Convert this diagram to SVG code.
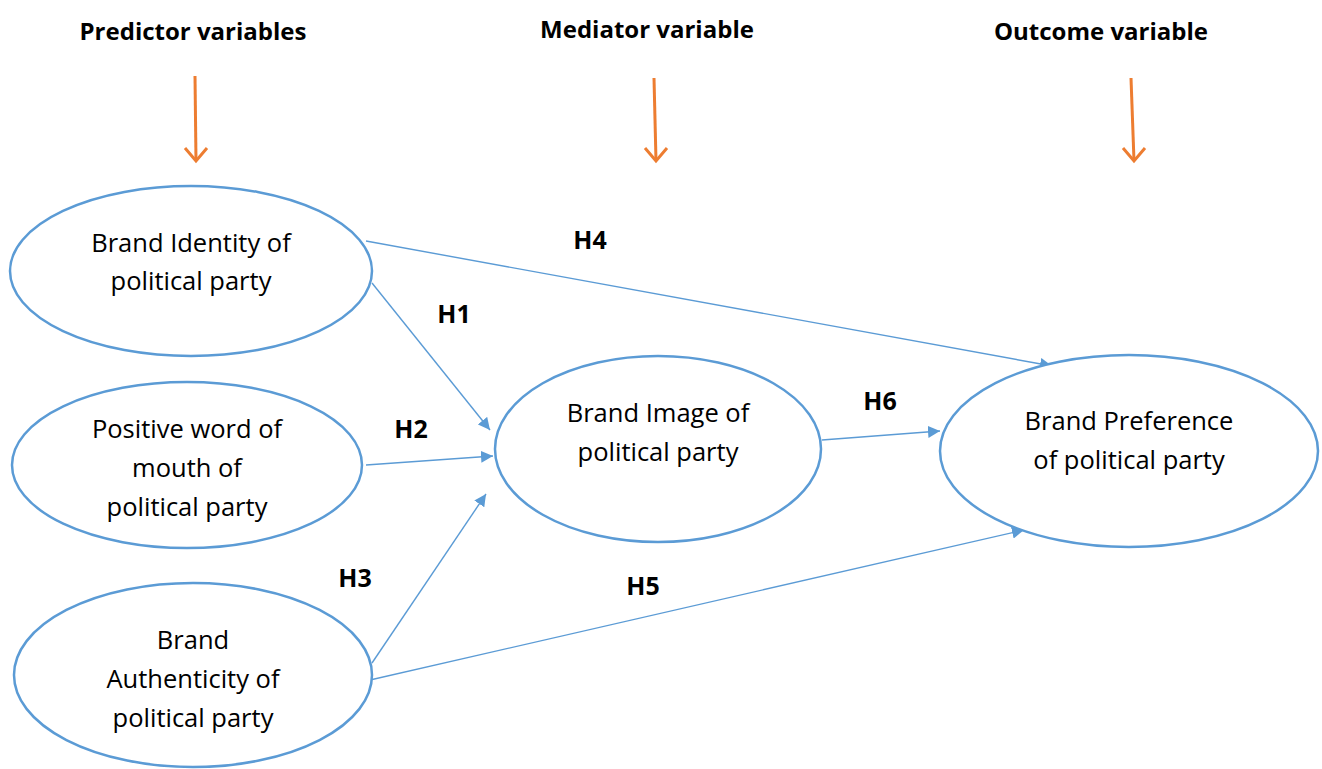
<svg xmlns="http://www.w3.org/2000/svg" width="1322" height="769" viewBox="0 0 1322 769">
  <style>
    .hdr { font-family: "Open Sans", "Liberation Sans", sans-serif; font-weight: bold; font-size: 24px; fill: #000; text-anchor: middle; }
    .lbl { font-family: "Open Sans", "Liberation Sans", sans-serif; font-weight: bold; font-size: 25px; fill: #000; text-anchor: middle; }
    .node ellipse { fill: #fff; stroke: #5B9BD5; stroke-width: 2.5; }
    .node text { font-family: "Open Sans", "Liberation Sans", sans-serif; font-size: 25.5px; fill: #000; text-anchor: middle; }
    .conn line { stroke: #5B9BD5; stroke-width: 1.4; marker-end: url(#blueHead); }
    .pointer line { stroke: #ED7D31; stroke-width: 3; }
    .pointer path { fill: none; stroke: #ED7D31; stroke-width: 3; }
  </style>
  <defs>
    <marker id="blueHead" viewBox="0 0 10 10" refX="10" refY="5" markerWidth="12" markerHeight="12" markerUnits="userSpaceOnUse" orient="auto">
      <path d="M0,0 L10,5 L0,10 z" fill="#5B9BD5"/>
    </marker>
  </defs>

  <!-- Column headings -->
  <text class="hdr" x="193" y="40">Predictor variables</text>
  <text class="hdr" x="647" y="38">Mediator variable</text>
  <text class="hdr" x="1101" y="40">Outcome variable</text>

  <!-- Orange pointers below headings -->
  <g class="pointer">
    <line x1="195" y1="76" x2="196" y2="161"/>
    <path d="M185,148 L196,161 L207,148"/>
    <line x1="654" y1="78" x2="656" y2="161"/>
    <path d="M645,148 L656,161 L667,148"/>
    <line x1="1131" y1="78" x2="1134" y2="161"/>
    <path d="M1123,148 L1134,161 L1145,148"/>
  </g>

  <!-- Connectors -->
  <g id="connectors" class="conn">
    <line x1="366" y1="241" x2="1052" y2="366"/>
    <line x1="372" y1="283" x2="490" y2="430"/>
    <line x1="366" y1="465" x2="493" y2="456"/>
    <line x1="372" y1="663" x2="486" y2="494"/>
    <line x1="370" y1="680" x2="1024" y2="530"/>
    <line x1="822" y1="440" x2="940" y2="431"/>
  </g>

  <!-- Hypothesis labels -->
  <text class="lbl" x="590" y="249">H4</text>
  <text class="lbl" x="454" y="323">H1</text>
  <text class="lbl" x="411" y="438">H2</text>
  <text class="lbl" x="355" y="587">H3</text>
  <text class="lbl" x="643" y="595">H5</text>
  <text class="lbl" x="880" y="410">H6</text>

  <!-- Nodes -->
  <g id="brand-identity" class="node">
    <ellipse cx="191" cy="271" rx="181" ry="85"/>
    <text x="191" y="252">Brand Identity of</text>
    <text x="191" y="290">political party</text>
  </g>
  <g id="word-of-mouth" class="node">
    <ellipse cx="187" cy="465" rx="175" ry="83"/>
    <text x="187" y="438">Positive word of</text>
    <text x="187" y="477">mouth of</text>
    <text x="187" y="516">political party</text>
  </g>
  <g id="brand-authenticity" class="node">
    <ellipse cx="193" cy="675" rx="179" ry="92"/>
    <text x="193" y="649">Brand</text>
    <text x="193" y="688">Authenticity of</text>
    <text x="193" y="727">political party</text>
  </g>
  <g id="brand-image" class="node">
    <ellipse cx="658" cy="449" rx="163" ry="93"/>
    <text x="658" y="422">Brand Image of</text>
    <text x="658" y="461">political party</text>
  </g>
  <g id="brand-preference" class="node">
    <ellipse cx="1129" cy="451" rx="189" ry="96"/>
    <text x="1129" y="430">Brand Preference</text>
    <text x="1129" y="469">of political party</text>
  </g>
</svg>
